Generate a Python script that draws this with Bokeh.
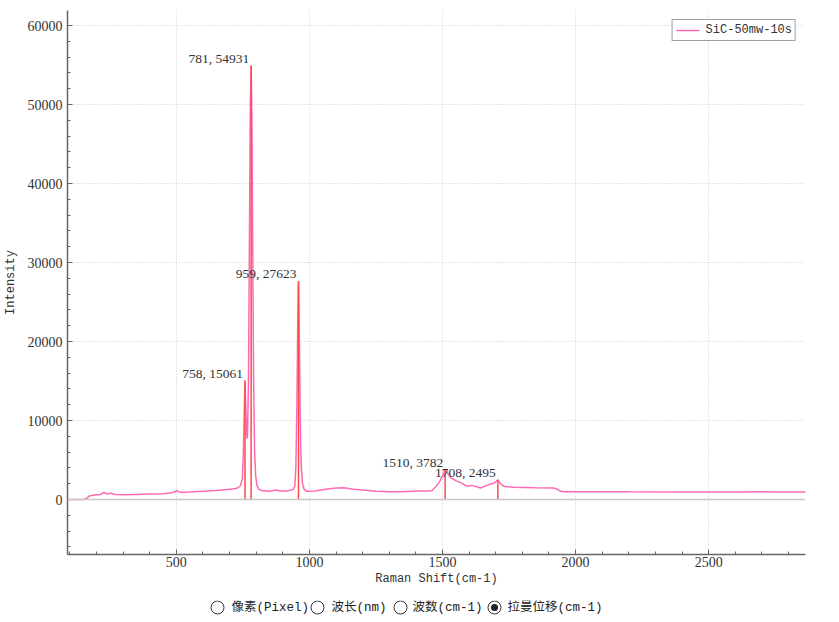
from bokeh.plotting import figure
from bokeh.models import Range1d, FixedTicker, Span
from bokeh.layouts import column
from bokeh.embed import file_html
from bokeh.resources import INLINE
from bokeh.core.properties import value

# ---------------- data ----------------
shift = [91, 150, 160, 175, 200, 215, 228, 240, 255, 270, 300, 350, 400, 450, 480,
         495, 500, 508, 520, 550, 600, 650, 700, 725, 740, 748, 752, 755, 758, 761,
         764, 767, 771, 775, 778, 781, 784, 787, 790, 794, 798, 803, 810, 820, 850,
         875, 890, 920, 940, 945, 949, 953, 956, 959, 962, 965, 969, 974, 980, 990,
         1020, 1060, 1100, 1130, 1160, 1200, 1250, 1300, 1350, 1400, 1440, 1461, 1474,
         1490, 1500, 1510, 1520, 1530, 1550, 1568, 1593, 1612, 1643, 1674, 1695, 1708,
         1720, 1731, 1767, 1850, 1918, 1932, 1944, 1960, 2000, 2200, 2400, 2600, 2700,
         2750, 2864]
intensity = [0, 0, 100, 500, 600, 650, 900, 700, 800, 650, 600, 650, 700, 750, 850,
             1000, 1150, 1000, 900, 950, 1050, 1150, 1300, 1400, 1700, 2600, 6000, 11000, 15061, 11500,
             8200, 7700, 15000, 35000, 50000, 54931, 48000, 32000, 16000, 6000, 3000, 1800, 1300, 1150, 1050,
             1200, 1100, 1100, 1300, 1700, 4000, 12000, 22000, 27623, 21000, 11000, 4500, 2000, 1300, 1050,
             1100, 1300, 1470, 1500, 1350, 1200, 1050, 1000, 1000, 1100, 1100, 1150, 1600,
             2300, 3000, 3782, 3300, 2780, 2400, 2140, 1680, 1800, 1470, 1900, 2100, 2495,
             1950, 1680, 1550, 1500, 1470, 1300, 1050, 1000, 990, 980, 975, 965, 1000,
             960, 950]

peak_x = [758, 781, 959, 1510, 1708]
peak_y = [15061, 54931, 27623, 3782, 2495]
peak_labels = [f"{x}, {y}" for x, y in zip(peak_x, peak_y)]

x_ticks = [500, 1000, 1500, 2000, 2500]
x_minor = list(range(100, 2900, 100))
y_ticks = [0, 10000, 20000, 30000, 40000, 50000, 60000]
y_minor = list(range(-6000, 62000, 2000))

series_name = "SiC-50mw-10s"
radio_labels = ["像素(Pixel)", "波长(nm)", "波数(cm-1)", "拉曼位移(cm-1)"]
radio_selected = 3

# layout constants (page pixels)
FRAME_L, FRAME_R = 67, 805

# ---------------- main chart ----------------
p = figure(width=839, height=600, x_range=Range1d(91, 2864), y_range=Range1d(-6950, 61900),
           output_backend="svg", toolbar_location=None,
           min_border_left=FRAME_L, min_border_right=839 - FRAME_R,
           min_border_top=10, min_border_bottom=46)
p.outline_line_color = None
p.background_fill_color = "white"
p.border_fill_color = "white"

p.xaxis.ticker = FixedTicker(ticks=x_ticks, minor_ticks=x_minor)
p.yaxis.ticker = FixedTicker(ticks=y_ticks, minor_ticks=y_minor)
for ax in (p.xaxis, p.yaxis):
    ax.axis_line_color = "#666666"
    ax.axis_line_width = 1.5
    ax.major_tick_line_color = "#666666"
    ax.minor_tick_line_color = "#666666"
    ax.major_tick_in = 5
    ax.major_tick_out = 0
    ax.minor_tick_in = 3
    ax.minor_tick_out = 0
    ax.major_label_text_font = "Liberation Serif"
    ax.major_label_text_font_size = "14px"
    ax.major_label_text_color = "#333333"
    ax.axis_label_text_font = "Liberation Mono"
    ax.axis_label_text_font_style = "normal"
    ax.axis_label_text_font_size = "12px"
    ax.axis_label_text_color = "#333333"
p.xaxis.axis_label = "Raman Shift(cm-1)"
p.yaxis.axis_label = "Intensity"
p.xaxis.major_label_standoff = 2
p.yaxis.major_label_standoff = 5
p.xaxis.axis_label_standoff = 2
p.yaxis.axis_label_standoff = 7

for g in (p.xgrid, p.ygrid):
    g.grid_line_color = "#cccccc"
    g.grid_line_dash = "1 2"
    g.grid_line_width = 1

p.add_layout(Span(location=0, dimension="width", line_color="#c8c8c8", line_width=1.5))

p.line(shift, intensity, line_color="#ff69b4", line_width=1.5, legend_label=series_name)
p.segment(x0=peak_x, y0=[0] * len(peak_x), x1=peak_x, y1=peak_y,
          line_color="#ff4a4a", line_width=1.5)
p.text(x=peak_x, y=peak_y, text=peak_labels, text_align="right", text_baseline="bottom",
       x_offset=-2, text_font=value("Liberation Serif"), text_font_size="13.5px",
       text_color="#333333")

lg = p.legend[0]
lg.location = "top_right"
lg.margin = 9
lg.padding = 3
lg.spacing = 0
lg.border_line_color = "#444444"
lg.border_line_width = 1
lg.background_fill_alpha = 1
lg.label_text_font = "Liberation Mono"
lg.label_text_font_size = "12px"
lg.label_text_color = "#333333"
lg.glyph_width = 24
lg.glyph_height = 14
lg.label_height = 14
lg.label_standoff = 6

# ---------------- radio bar ----------------
# frame aligned with main chart frame; x_range expressed in page pixels
r = figure(width=839, height=22, x_range=Range1d(FRAME_L, FRAME_R), y_range=Range1d(0, 22),
           output_backend="svg", toolbar_location=None,
           min_border_left=FRAME_L, min_border_right=839 - FRAME_R,
           min_border_top=0, min_border_bottom=0)
r.axis.visible = False
r.grid.visible = False
r.outline_line_color = None
circle_x = [217, 317, 400, 494]
text_x = [231, 331, 412, 507]
r.scatter(x=circle_x, y=[15] * 4, size=13, fill_color="white", line_color="#333333", line_width=1)
r.scatter(x=[circle_x[radio_selected]], y=[15], size=7, fill_color="#222222", line_color=None)
r.text(x=text_x, y=[15] * 4, text=radio_labels, text_baseline="middle", text_align="left",
       text_font=value("Liberation Mono, Noto Sans CJK SC"), text_font_size="12.5px",
       text_color="#222222")

layout = column(p, r, spacing=0)
open("out.html", "w").write(file_html(layout, INLINE))
